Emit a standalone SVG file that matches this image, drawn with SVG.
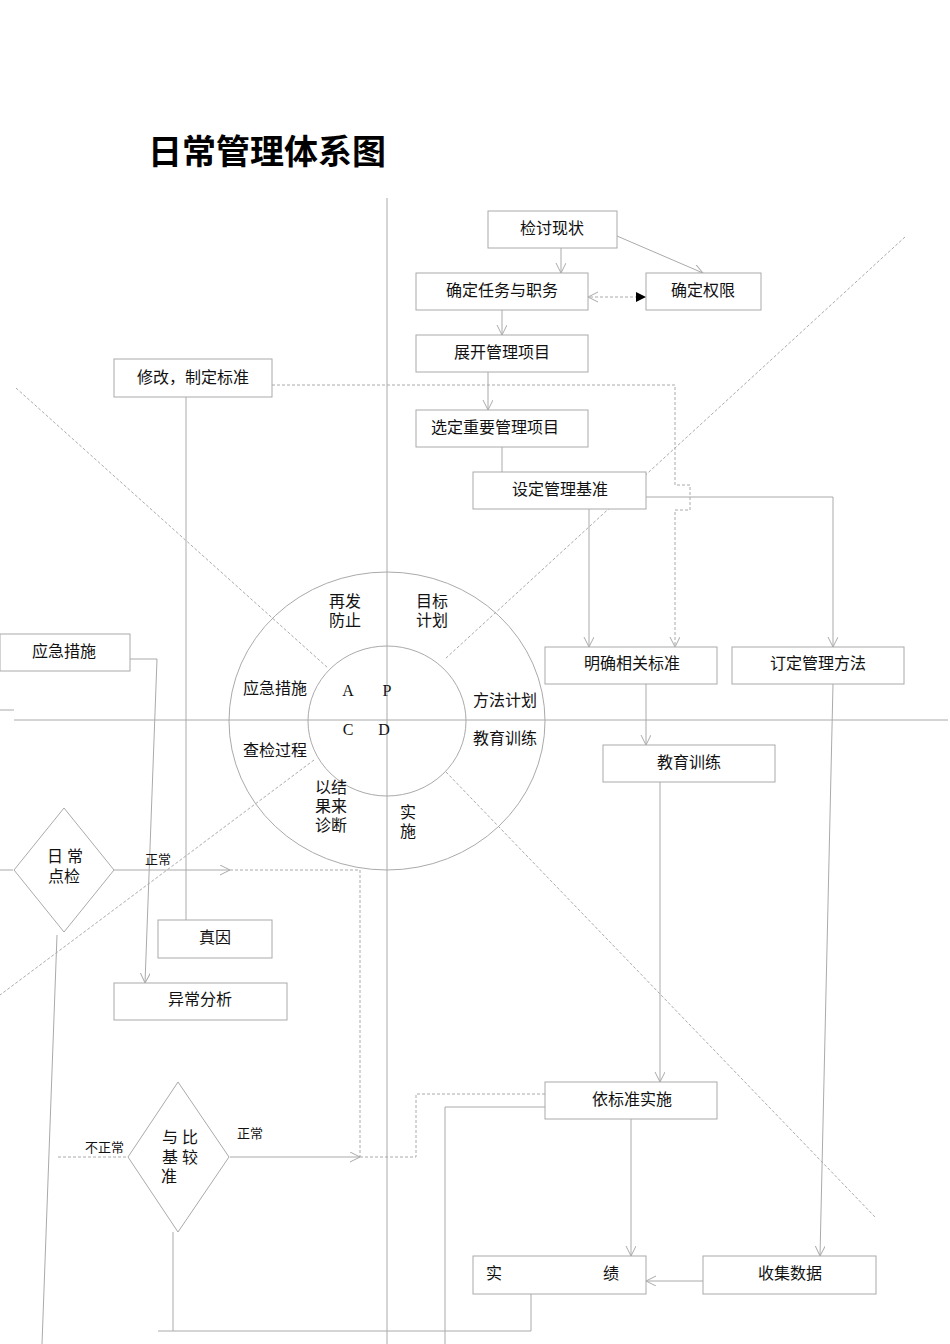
<svg xmlns="http://www.w3.org/2000/svg" width="950" height="1344" viewBox="0 0 950 1344">
<style>
.b{fill:#fff;stroke:#aaa;stroke-width:1}
.t{font-family:"Liberation Serif","Noto Sans CJK SC",serif;font-size:16px;fill:#111;text-anchor:middle}
.s{font-family:"Liberation Serif","Noto Sans CJK SC",serif;font-size:13px;fill:#111}
.c{fill:none;stroke:#aaa;stroke-width:1}
.d{fill:none;stroke:#aaa;stroke-width:1;stroke-dasharray:3,2}
.a{marker-end:url(#o)}
</style>
<defs>
<marker id="o" markerWidth="12" markerHeight="12" refX="10" refY="5" orient="auto" markerUnits="userSpaceOnUse"><path d="M0,0 L10,5 L0,10" fill="none" stroke="#aaa"/></marker>
<marker id="f" markerWidth="12" markerHeight="12" refX="10" refY="5" orient="auto" markerUnits="userSpaceOnUse"><path d="M0,0 L10,5 L0,10 Z" fill="#000"/></marker>
</defs>
<rect width="950" height="1344" fill="#fff"/>
<text x="148" y="164" style="font-family:'Noto Sans CJK SC',sans-serif;font-size:34px;font-weight:bold" fill="#000">日常管理体系图</text>
<g id="axes">
<line x1="387" y1="198" x2="387" y2="1344" class="c"/>
<line x1="14" y1="720" x2="948" y2="720" class="c"/>
<line x1="0" y1="710" x2="14" y2="710" class="c"/>
<line x1="0" y1="870" x2="13" y2="870" class="c"/>
<line x1="16" y1="388" x2="328" y2="668" class="d"/>
<line x1="446" y1="772" x2="876" y2="1218" class="d"/>
<line x1="905" y1="237" x2="445" y2="659" class="d"/>
<line x1="314" y1="760" x2="0" y2="995" class="d"/>
</g>
<g id="pdca">
<ellipse cx="387" cy="721" rx="158" ry="149" class="c"/>
<ellipse cx="387" cy="721" rx="79" ry="75" fill="none" stroke="#aaa"/>
<text class="t" x="345" y="607">再发</text><text class="t" x="345" y="626">防止</text>
<text class="t" x="432" y="607">目标</text><text class="t" x="432" y="626">计划</text>
<text class="t" x="275" y="694">应急措施</text>
<text class="t" x="275" y="756">查检过程</text>
<text class="t" x="505" y="706">方法计划</text>
<text class="t" x="505" y="744">教育训练</text>
<text class="t" x="331" y="793">以结</text><text class="t" x="331" y="812">果来</text><text class="t" x="331" y="831">诊断</text>
<text class="t" x="408" y="818">实</text><text class="t" x="408" y="837">施</text>
<text class="t" x="348" y="696">A</text><text class="t" x="387" y="696">P</text>
<text class="t" x="348" y="735">C</text><text class="t" x="384" y="735">D</text>
</g>
<g id="connectors">
<path class="c a" d="M561,248 V273"/>
<path class="c a" d="M617,236 L703,273"/>
<path class="d" d="M590,297 H646" marker-end="url(#f)"/>
<path class="c" d="M598,292 L588,297 L598,302"/>
<path class="c a" d="M502,310 V335"/>
<path class="c a" d="M488,372 V410"/>
<path class="c" d="M502,447 V472"/>
<path class="c a" d="M646,497 H833 V647"/>
<path class="c a" d="M589,509 V647"/>
<path class="d a" d="M272,385 H675 V485 H690 V510 H675 V647"/>
<path class="c" d="M186,397 V920"/>
<path class="c a" d="M120,659 H157 L145,983"/>
<path class="c a" d="M646,684 V745"/>
<path class="c a" d="M660,782 V1082"/>
<path class="c a" d="M833,684 L820,1256"/>
<path class="c a" d="M631,1119 V1256"/>
<path class="c a" d="M703,1281 H646"/>
<path class="c a" d="M107,870 H230"/>
<path class="d" d="M230,870 H360 V1157"/>
<path class="c a" d="M230,1157 H360"/>
<path class="d" d="M360,1157 H416 V1094 H545"/>
<path class="d" d="M58,1157 H128"/>
<path class="c" d="M545,1107 H445 V1344"/>
<path class="c" d="M173,1232 V1331 M158,1331 H531 V1294"/>
<path class="c" d="M57,935 L42,1344"/>
<text class="s" x="145" y="864">正常</text>
<text class="s" x="237" y="1138">正常</text>
<text class="s" x="85" y="1152">不正常</text>
</g>
<g id="n1"><rect class="b" x="488" y="211" width="129" height="37"/><text class="t" x="552" y="234">检讨现状</text></g>
<g id="n2"><rect class="b" x="416" y="273" width="172" height="37"/><text class="t" x="502" y="296">确定任务与职务</text></g>
<g id="n3"><rect class="b" x="646" y="273" width="115" height="37"/><text class="t" x="703" y="296">确定权限</text></g>
<g id="n4"><rect class="b" x="416" y="335" width="172" height="37"/><text class="t" x="502" y="358">展开管理项目</text></g>
<g id="n5"><rect class="b" x="114" y="359" width="158" height="38"/><text class="t" x="193" y="383">修改，制定标准</text></g>
<g id="n6"><rect class="b" x="416" y="410" width="172" height="37"/><text class="t" x="495" y="433">选定重要管理项目</text></g>
<g id="n7"><rect class="b" x="473" y="472" width="173" height="37"/><text class="t" x="560" y="495">设定管理基准</text></g>
<g id="n8"><rect class="b" x="545" y="647" width="172" height="37"/><text class="t" x="632" y="669">明确相关标准</text></g>
<g id="n9"><rect class="b" x="732" y="647" width="172" height="37"/><text class="t" x="818" y="669">订定管理方法</text></g>
<g id="n10"><rect class="b" x="0" y="634" width="130" height="37"/><text class="t" x="64" y="657">应急措施</text></g>
<g id="n11"><rect class="b" x="603" y="745" width="172" height="37"/><text class="t" x="689" y="768">教育训练</text></g>
<g id="n12"><rect class="b" x="158" y="920" width="114" height="38"/><text class="t" x="215" y="943">真因</text></g>
<g id="n13"><rect class="b" x="114" y="983" width="173" height="37"/><text class="t" x="200" y="1005">异常分析</text></g>
<g id="n14"><rect class="b" x="545" y="1082" width="172" height="37"/><text class="t" x="632" y="1105">依标准实施</text></g>
<g id="n15"><rect class="b" x="473" y="1256" width="173" height="38"/><text class="t" x="494" y="1279">实</text><text class="t" x="611" y="1279">绩</text></g>
<g id="n16"><rect class="b" x="703" y="1256" width="173" height="38"/><text class="t" x="790" y="1279">收集数据</text></g>
<g id="n17"><polygon class="b" points="64,808 114,870 64,932 14,870"/><text class="t" x="65" y="862">日 常</text><text class="t" x="64" y="882">点检</text></g>
<g id="n18"><polygon class="b" points="178,1082 229,1157 178,1232 128,1157"/><text class="t" x="180" y="1143">与 比</text><text class="t" x="180" y="1163">基 较</text><text class="t" x="169" y="1182">准</text></g>
</svg>
